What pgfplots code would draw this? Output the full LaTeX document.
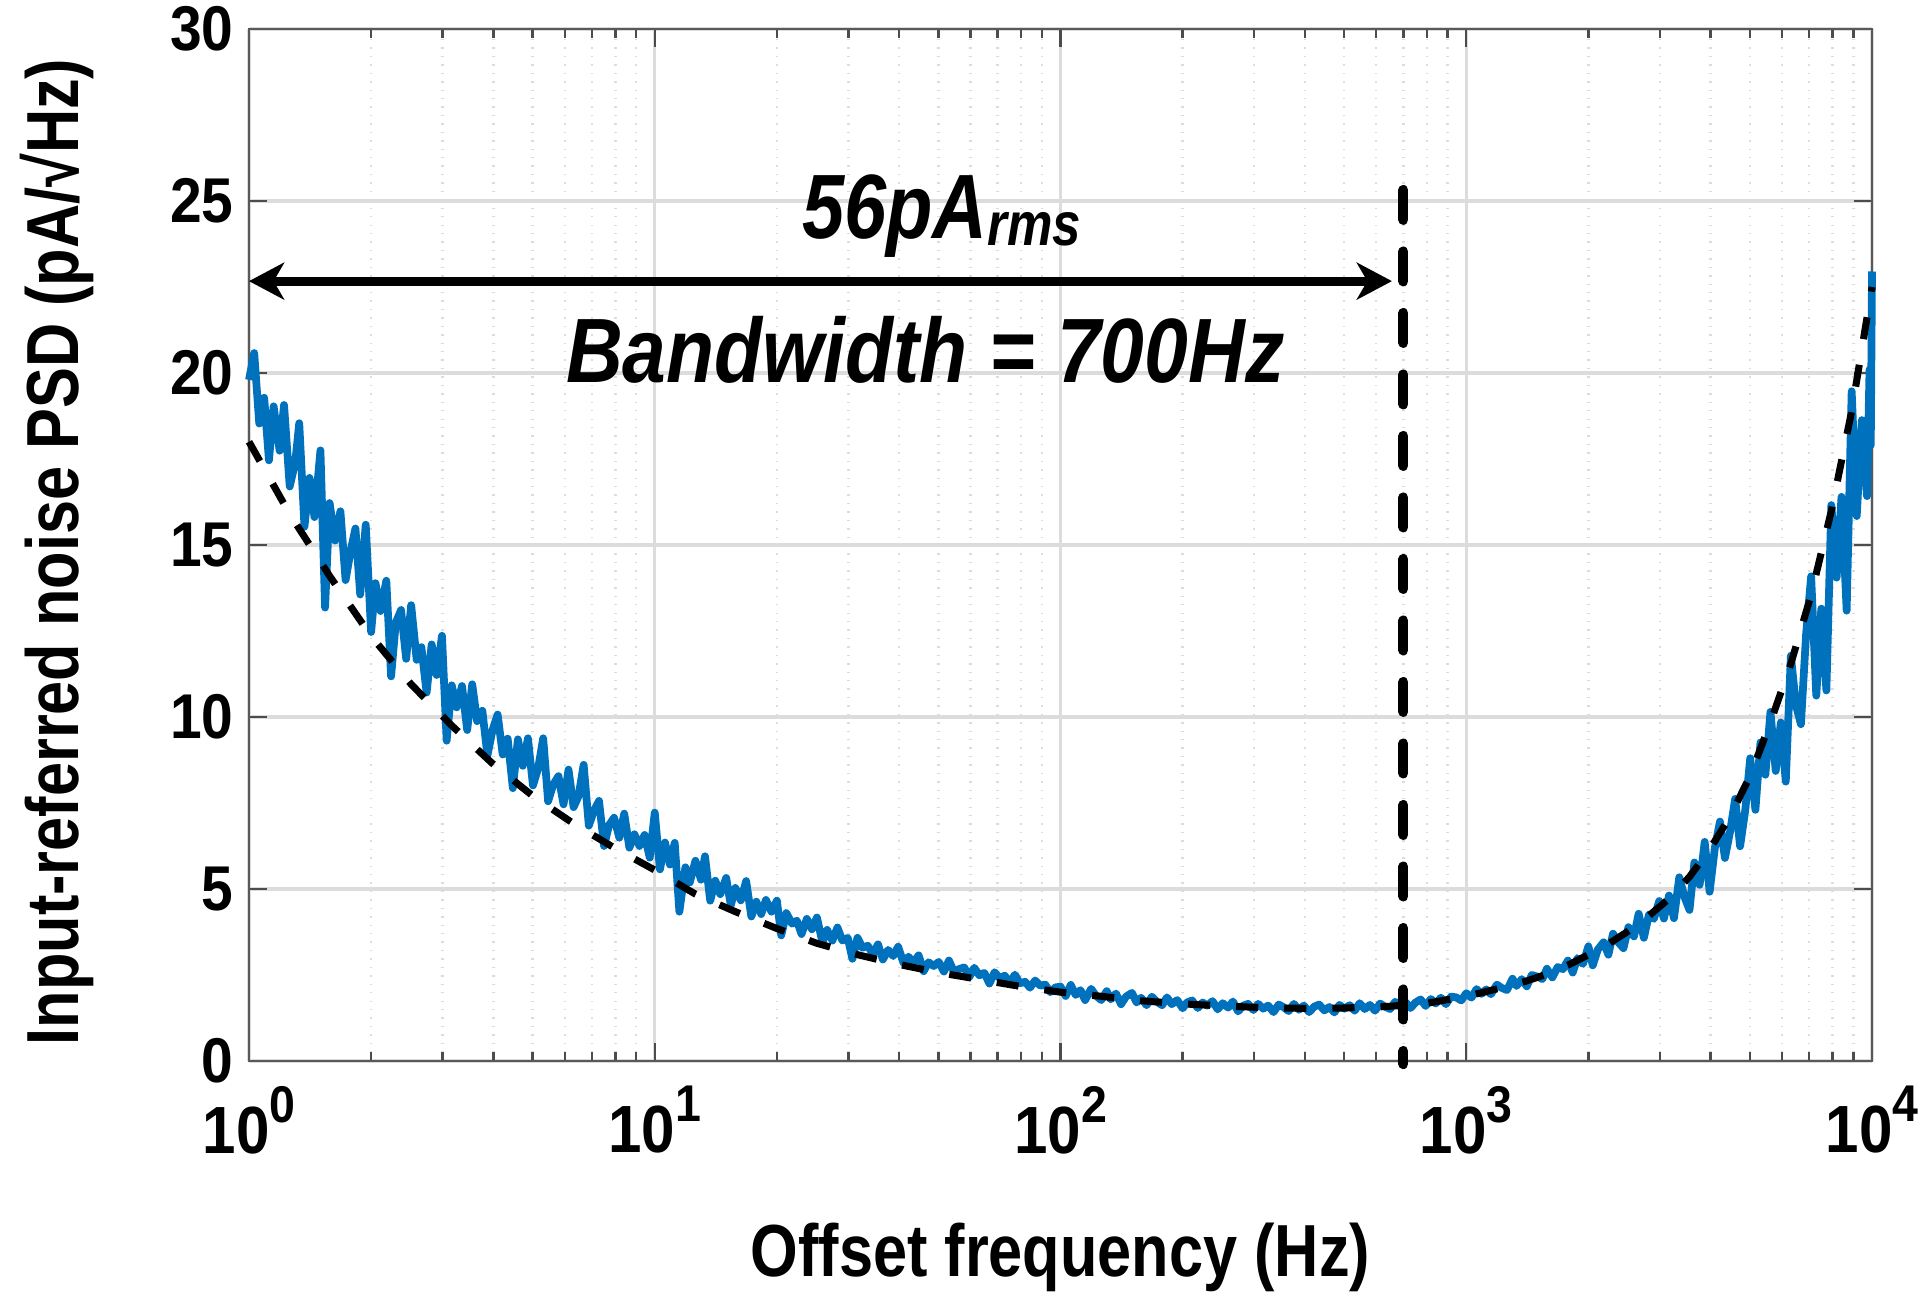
\documentclass[border=0pt]{standalone}
\usepackage{fontspec}
\setmainfont{Liberation Sans}[FakeStretch=0.83]
\newfontfamily\tickfont{Liberation Sans}[FakeStretch=0.9]
\newfontfamily\annfont{Liberation Sans}[FakeStretch=0.86]
\usepackage{pgfplots}
\pgfplotsset{compat=1.18}
\usetikzlibrary{arrows.meta}
\definecolor{mblue}{RGB}{0,114,189}
\definecolor{gridc}{RGB}{220,220,220}
\newcommand{\tl}[1]{10\raisebox{8.8pt}{\fontsize{14.7}{15}\selectfont #1}}
\begin{document}
\begin{tikzpicture}
\begin{axis}[
  xmode=log, scale only axis, width=16.23cm, height=10.32cm,
  xmin=1, xmax=10000, ymin=0, ymax=30,
  xtick={1,10,100,1000,10000},
  xticklabels={\tl{0},\tl{1},\tl{2},\tl{3},\tl{4}},
  ytick={0,5,10,15,20,25,30},
  ymajorgrids, xmajorgrids, xminorgrids,
  major grid style={gridc, line width=0.9pt},
  minor grid style={gridc, dotted, line width=0.7pt},
  tick align=inside,
  major tick length=0.18cm, minor tick length=0.09cm,
  tick style={black!70, line width=0.7pt},
  axis line style={black!65, line width=0.8pt},
  clip=false,
  /pgf/number format/assume math mode=true,
  xticklabel style={font=\tickfont\bfseries\fontsize{19}{22}\selectfont, yshift=-0.13cm},
  yticklabel style={font=\tickfont\bfseries\fontsize{18}{21}\selectfont, xshift=-0.03cm},
]
\coordinate (ll) at (rel axis cs:0,0);
\coordinate (ur) at (rel axis cs:1,1);

\addplot[mblue, line width=2.2pt, line join=round, no marks] coordinates {
(1.00,19.80)(1.03,20.58)(1.06,18.53)(1.09,19.28)(1.12,17.46)(1.15,19.03)(1.19,17.74)(1.22,19.07)(1.26,16.70)(1.30,17.40)(1.33,18.54)(1.37,15.53)(1.41,16.95)(1.45,15.81)(1.50,17.75)(1.54,13.18)(1.58,16.22)(1.63,15.13)(1.68,15.98)(1.73,13.98)(1.78,14.82)(1.83,15.48)(1.88,13.56)(1.94,15.59)(2.00,12.47)(2.05,13.89)(2.11,13.08)(2.18,13.96)(2.24,11.18)(2.30,12.74)(2.37,13.11)(2.44,11.69)(2.51,13.25)(2.59,11.66)(2.66,12.03)(2.74,10.71)(2.82,12.11)(2.90,11.22)(2.99,12.36)(3.07,9.31)(3.16,10.92)(3.25,10.28)(3.35,10.90)(3.45,9.62)(3.55,10.95)(3.65,9.88)(3.76,10.18)(3.87,8.88)(3.98,9.60)(4.10,10.07)(4.22,8.91)(4.34,9.37)(4.47,7.93)(4.60,9.35)(4.73,8.58)(4.87,9.38)(5.01,8.01)(5.16,8.51)(5.31,9.38)(5.46,7.55)(5.62,8.03)(5.79,8.28)(5.96,7.46)(6.13,8.47)(6.31,7.38)(6.49,7.70)(6.68,8.61)(6.88,6.84)(7.08,7.27)(7.29,7.56)(7.50,6.25)(7.72,6.86)(7.94,7.07)(8.18,6.49)(8.41,7.19)(8.66,6.20)(8.91,6.59)(9.17,6.25)(9.44,6.57)(9.72,5.91)
(10.0,7.22)(10.3,5.57)(10.6,6.35)(10.9,5.71)(11.2,6.34)(11.5,4.34)(11.9,5.63)(12.2,5.19)(12.6,5.82)(13.0,5.27)(13.3,5.95)(13.7,4.66)(14.1,5.24)(14.5,4.85)(15.0,5.32)(15.4,4.53)(15.8,5.03)(16.3,4.67)(16.8,5.23)(17.3,4.20)(17.8,4.63)(18.3,4.27)(18.8,4.68)(19.4,4.34)(20.0,4.66)(20.5,3.65)(21.1,4.30)(21.8,3.99)(22.4,4.08)(23.0,3.69)(23.7,4.13)(24.4,3.83)(25.1,4.17)(25.9,3.45)(26.6,3.81)(27.4,3.50)(28.2,3.88)(29.0,3.50)(29.9,3.58)(30.7,2.97)(31.6,3.58)(32.5,3.29)(33.5,3.35)(34.5,3.10)(35.5,3.39)(36.5,2.95)(37.6,3.23)(38.7,3.05)(39.8,3.32)(41.0,2.86)(42.2,3.03)(43.4,2.86)(44.7,3.07)(46.0,2.61)(47.3,2.87)(48.7,2.76)(50.1,2.88)(51.6,2.60)(53.1,2.92)(54.6,2.60)(56.2,2.67)(57.9,2.72)(59.6,2.44)(61.3,2.71)(63.1,2.49)(64.9,2.56)(66.8,2.25)(68.8,2.58)(70.8,2.41)(72.9,2.48)(75.0,2.26)(77.2,2.51)(79.4,2.26)(81.8,2.30)(84.1,2.13)(86.6,2.34)(89.1,2.19)(91.7,2.22)(94.4,2.00)(97.2,2.14)
(100,2.16)(103,1.89)(106,2.21)(109,1.92)(112,2.06)(115,1.77)(119,2.10)(122,1.91)(126,1.77)(130,2.03)(133,1.79)(137,1.96)(141,1.65)(145,1.87)(150,1.98)(154,1.70)(158,1.84)(163,1.62)(168,1.87)(173,1.72)(178,1.62)(183,1.85)(188,1.65)(194,1.77)(200,1.53)(205,1.70)(211,1.76)(218,1.54)(224,1.70)(230,1.61)(237,1.74)(244,1.50)(251,1.68)(259,1.55)(266,1.73)(274,1.44)(282,1.61)(290,1.66)(299,1.48)(307,1.66)(316,1.52)(325,1.61)(335,1.42)(345,1.64)(355,1.56)(365,1.45)(376,1.66)(387,1.49)(398,1.61)(410,1.42)(422,1.58)(434,1.64)(447,1.47)(460,1.57)(473,1.41)(487,1.63)(501,1.52)(516,1.62)(531,1.46)(546,1.68)(562,1.51)(579,1.63)(596,1.46)(613,1.67)(631,1.58)(649,1.51)(668,1.72)(688,1.58)(708,1.71)(729,1.54)(750,1.70)(772,1.79)(794,1.60)(818,1.80)(841,1.67)(866,1.84)(891,1.65)(917,1.87)(944,1.85)(972,1.76)
(1000,1.97)(1030,1.84)(1060,2.09)(1090,1.95)(1120,2.08)(1150,1.94)(1190,2.22)(1220,2.13)(1260,2.06)(1300,2.39)(1330,2.18)(1370,2.38)(1410,2.17)(1450,2.50)(1500,2.45)(1540,2.38)(1580,2.68)(1630,2.43)(1680,2.73)(1730,2.67)(1780,2.92)(1830,2.57)(1880,2.99)(1940,2.82)(2000,3.33)(2050,2.78)(2110,3.24)(2180,3.45)(2240,3.09)(2300,3.70)(2370,3.45)(2440,3.28)(2510,3.89)(2590,3.62)(2660,4.28)(2740,3.58)(2820,4.26)(2900,4.13)(2990,4.65)(3070,4.14)(3160,4.81)(3250,4.15)(3350,5.34)(3450,4.77)(3550,4.39)(3650,5.77)(3760,5.12)(3870,6.37)(3980,4.92)(4100,6.20)(4220,6.96)(4340,5.90)(4470,6.67)(4600,7.62)(4730,6.24)(4870,7.28)(5010,8.80)(5160,7.30)(5310,9.26)(5460,8.32)(5620,10.15)(5790,8.43)(5960,9.84)(6130,8.12)(6310,11.78)(6490,10.36)(6680,9.79)(6880,12.40)(7080,14.09)(7290,10.62)(7500,13.15)(7720,10.77)(7940,16.16)(8180,14.05)(8410,16.40)(8660,13.09)(8910,19.47)(9170,15.84)(9440,18.63)(9720,16.42)(9860,20.10)(9930,17.90)(10000,22.95)
};

\addplot[black, line width=2pt, dash pattern=on 6.3pt off 7.4pt, no marks] coordinates {
(1,18.0)(1.26,15.9)(1.58,14.1)(2.0,12.35)(2.51,10.95)(3.16,9.75)(3.98,8.65)(5.01,7.7)(6.31,6.9)(7.94,6.2)(10,5.55)(12.6,4.85)(15.8,4.34)(20,3.85)(25.1,3.42)(31.6,3.09)(39.8,2.81)(50.1,2.57)(63.1,2.37)(79.4,2.17)(100,2.0)(126,1.88)(158,1.75)(200,1.66)(251,1.60)(316,1.55)(398,1.53)(501,1.54)(631,1.58)(794,1.67)(1000,1.88)(1122,2.02)(1259,2.17)(1413,2.33)(1585,2.53)(1778,2.78)(1995,3.08)(2239,3.40)(2512,3.78)(2818,4.22)(3162,4.72)(3548,5.35)(3981,6.15)(4467,7.1)(5012,8.3)(5623,9.85)(6310,11.55)(7079,13.55)(7943,16.0)(8913,18.9)(10000,22.5)
};

\addplot[black, line width=2.85pt, line cap=round, dash pattern=on 8.5pt off 9pt, no marks] coordinates {(700,25.32)(700,-0.09)};

\draw[{Stealth[length=10pt,width=10.5pt,inset=3pt]}-{Stealth[length=10pt,width=10.5pt,inset=3pt]}, line width=2.56pt] (axis cs:1,22.67) -- (axis cs:656,22.67);

\node[anchor=base, font=\bfseries\itshape\fontsize{26}{30}\selectfont] at (axis cs:51,23.92) {56pA\raisebox{-2pt}{\fontsize{17.5}{20}\selectfont rms}};
\node[anchor=base, font=\annfont\bfseries\itshape\fontsize{26}{30}\selectfont] at (axis cs:46.4,19.71) {Bandwidth = 700Hz};
\end{axis}
\path (ll) ++(8.115cm,-2.16cm) node[anchor=base, font=\bfseries\fontsize{21}{24}\selectfont] {Offset frequency (Hz)};
\path (ll) ++(-1.70cm,5.09cm) node[anchor=base, rotate=90, font=\bfseries\fontsize{21}{24}\selectfont] {Input-referred noise PSD (pA/√Hz)};
\pgfresetboundingbox
\path ([xshift=-2.49cm,yshift=-2.36cm]ll) rectangle ([xshift=0.48cm,yshift=0.29cm]ur);
\end{tikzpicture}
\end{document}
